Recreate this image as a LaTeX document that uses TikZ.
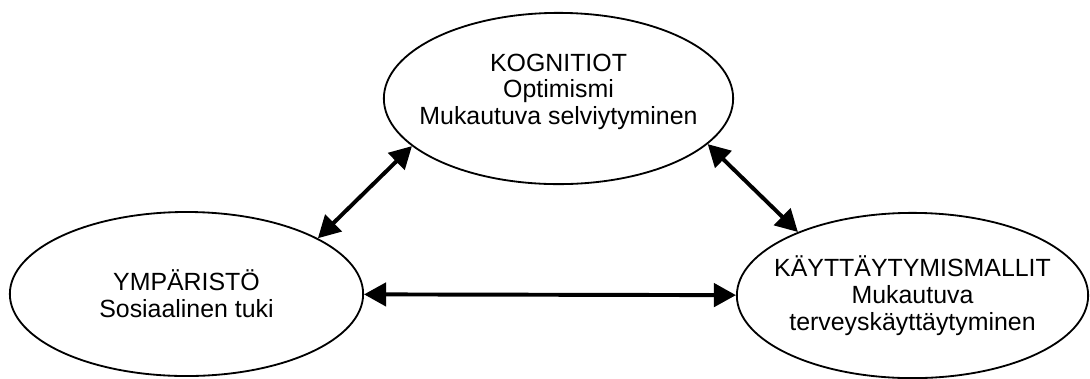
\documentclass[tikz,border=0pt]{standalone}
\usepackage{fontspec}
\setmainfont{Liberation Sans}
\usetikzlibrary{shapes.geometric,arrows.meta}
\begin{document}
\begin{tikzpicture}[x=0.025cm, y=-0.025cm,
  pallo/.style={ellipse, draw, line width=1.3pt, inner sep=0pt},
  teksti/.style={align=center, inner sep=0pt, font=\fontsize{17.7}{19}\selectfont},
  nuoli/.style={{Triangle[length=0.55cm,width=0.58cm]}-{Triangle[length=0.55cm,width=0.58cm]}, line width=2.8pt}]
\useasboundingbox (0,0) rectangle (1090,378);
\node[pallo, minimum width=8.73cm, minimum height=4.28cm,
  label={[teksti, yshift=0.17cm]center:KOGNITIOT\\Optimismi\\Mukautuva selviytyminen}] (kog) at (558.5,98.5) {};
\node[pallo, minimum width=8.83cm, minimum height=4.1cm,
  label={[teksti]center:YMPÄRISTÖ\\Sosiaalinen tuki}] (ymp) at (186.5,294) {};
\node[pallo, minimum width=8.78cm, minimum height=4.13cm,
  label={[teksti]center:KÄYTTÄYTYMISMALLIT\\Mukautuva\\terveyskäyttäytyminen}] (kay) at (912.5,295.5) {};
\draw[nuoli] (kog.198) -- (ymp.23);
\draw[nuoli] (kog.343) -- (kay.151);
\draw[nuoli] (ymp) -- (kay);
\end{tikzpicture}
\end{document}
